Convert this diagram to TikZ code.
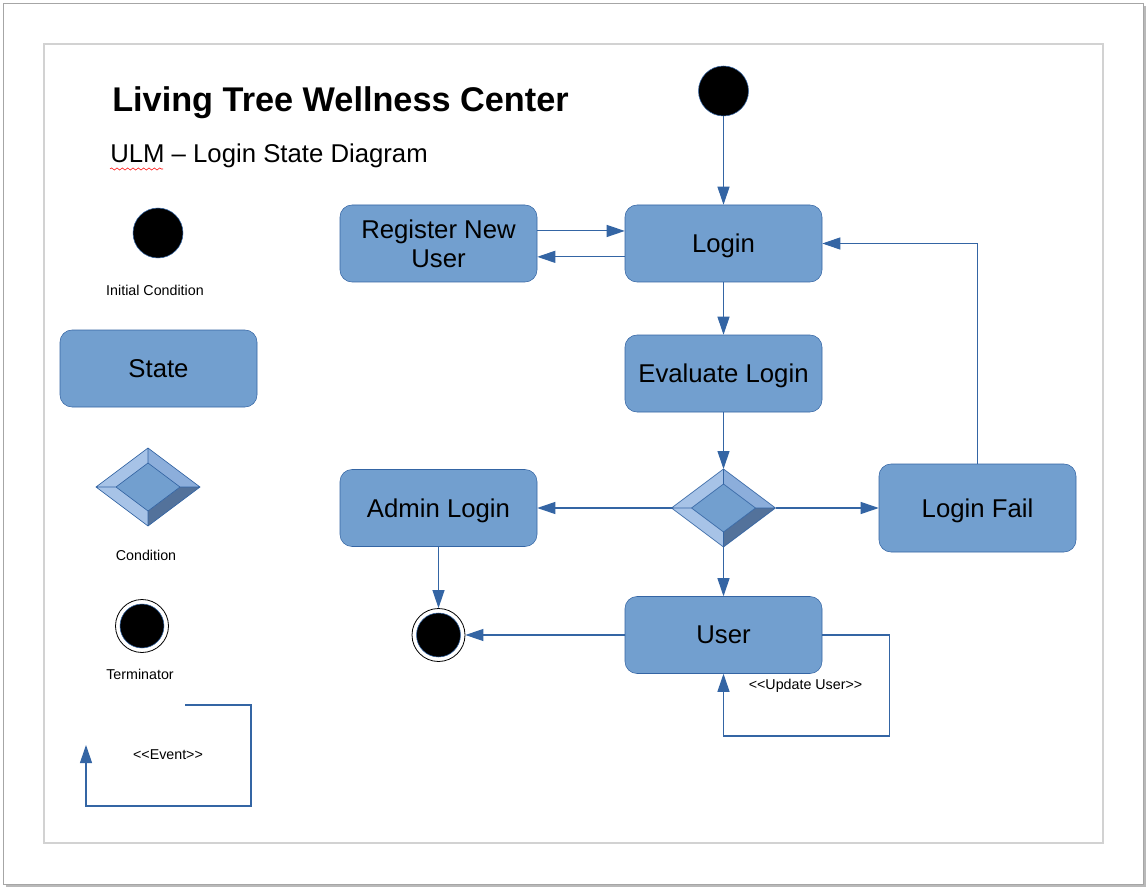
\documentclass[tikz,border=0pt]{standalone}
\usepackage{fontspec}
\setmainfont{Liberation Sans}
\usepackage{xcolor}
\usepackage{tikz}
\usetikzlibrary{arrows.meta,decorations.pathmorphing}

\definecolor{boxfill}{HTML}{729FCF}
\definecolor{boxline}{HTML}{3465A4}
\definecolor{facetlight}{HTML}{A7C3E7}
\definecolor{facetmid}{HTML}{8CAEDB}
\definecolor{facetdark}{HTML}{53729B}

\tikzset{
    state/.style={draw=boxline, fill=boxfill, rounded corners=9pt, inner sep=0pt,
        minimum width=147.75pt, minimum height=57.75pt, align=center, text depth=0pt,
        font=\fontsize{19.3}{21.75}\selectfont},
    flow/.style={draw=boxline, line width=0.8pt, -{Triangle[length=13.5pt,width=9pt]}},
    note/.style={font=\fontsize{10.7}{12}\selectfont, inner sep=0pt},
    blob/.style={circle, fill=black, draw=boxline, line width=0.4pt,
        minimum size=37.5pt, inner sep=0pt},
    ring/.style={circle, fill=white, draw=black, line width=0.6pt,
        minimum size=39.75pt, inner sep=0pt},
    core/.style={circle, fill=black, draw=boxline, line width=0.4pt,
        minimum size=33pt, inner sep=0pt},
    bevel/.pic={
        \coordinate (-n) at (0,-39);
        \coordinate (-s) at (0,39);
        \coordinate (-w) at (-52,0);
        \coordinate (-e) at (52,0);
        \coordinate (-in) at (0,-24);
        \coordinate (-is) at (0,24);
        \coordinate (-iw) at (-32,0);
        \coordinate (-ie) at (32,0);
        \fill[facetlight] (-w) -- (-n) -- (-in) -- (-iw) -- cycle;
        \fill[facetmid] (-n) -- (-e) -- (-ie) -- (-in) -- cycle;
        \fill[facetlight] (-w) -- (-s) -- (-is) -- (-iw) -- cycle;
        \fill[facetdark] (-e) -- (-s) -- (-is) -- (-ie) -- cycle;
        \fill[boxfill] (-in) -- (-ie) -- (-is) -- (-iw) -- cycle;
        \draw[boxline, line width=0.5pt] (-n) -- (-e) -- (-s) -- (-w) -- cycle
            (-in) -- (-ie) -- (-is) -- (-iw) -- cycle
            (-n) -- (-in) (-e) -- (-ie) (-s) -- (-is) (-w) -- (-iw);
    }
}

\begin{document}
\begin{tikzpicture}[x=0.75pt, y=-0.75pt]

    \useasboundingbox (0,0) rectangle (1147,888);

    % Page with shadow and frame
    \fill[gray!55] (6,6) rectangle (1146,887);
    \draw[gray!70, fill=white] (3,3) rectangle (1143,884);
    \draw[gray!35, line width=0.9pt] (44,44) rectangle (1103,843);

    % Title
    \node[anchor=base west, inner sep=0pt, font=\bfseries\fontsize{25.7}{30}\selectfont]
        (title) at (112,111.6) {Living Tree Wellness Center};
    \node[anchor=base west, inner sep=0pt, font=\fontsize{19.3}{22}\selectfont]
        (subtitle) at (110,162.5) {ULM – Login State Diagram};
    \draw[red, line width=0.4pt, decorate,
        decoration={snake, amplitude=0.8pt, segment length=4pt}] (110,169) -- (163,169);

    % Legend
    \node[blob] (keystart) at (158,233) {};
    \node[note] (keystartlabel) at (155,290) {Initial Condition};
    \node[state] (keystate) at (158.5,368.5) {State};
    \pic (keycond) at (148,487) {bevel};
    \node[note] (keycondlabel) at (146,555) {Condition};
    \node[ring] (keystop) at (142,626) {};
    \node[core] (keystopcore) at (keystop) {};
    \node[note] (keystoplabel) at (140,674) {Terminator};
    \coordinate (evfrom) at (185,705);
    \coordinate (evto) at (86,745);
    \draw[flow] (evfrom) -- ++(66,0) -- ++(0,101) -| (evto);
    \node[note] (evlabel) at (168,755) {<\kern0pt<Event>\kern0pt>};

    % States
    \node[blob] (start) at (723.5,91) {};
    \node[state] (login) at (723.5,243.5) {Login};
    \node[state] (register) at (438.5,243.5) {Register New\\User};
    \node[state] (evaluate) at (723.5,373.5) {Evaluate Login};
    \pic (cond) at (723.5,508) {bevel};
    \node[state] (admin) at (438.5,508) {Admin Login};
    \node[state, minimum height=66pt] (fail) at (977.5,508) {Login Fail};
    \node[state] (user) at (723.5,635) {User};
    \node[ring] (stop) at (438.5,635) {};
    \node[core] (stopcore) at (stop) {};

    % Transitions
    \draw[flow] (start) -- (login);
    \draw[flow] ([yshift=9.4pt]register.east) -- ([yshift=9.4pt]login.west);
    \draw[flow] ([yshift=-10pt]login.west) -- ([yshift=-10pt]register.east);
    \draw[flow] (login) -- (evaluate);
    \draw[flow] (evaluate) -- (cond-n);
    \draw[flow] (cond-w) -- (admin);
    \draw[flow] (cond-e) -- (fail);
    \draw[flow] (cond-s) -- (user);
    \draw[flow] (fail.north) |- (login.east);
    \draw[flow] (admin) -- (stop);
    \draw[flow] (user) -- (stop);
    \draw[flow] (user.east) -- ++(67,0) -- ++(0,101) -| (user.south);
    \node[note] (updlabel) at (805.5,686) {<\kern0pt<Update User>\kern0pt>};

\end{tikzpicture}
\end{document}
